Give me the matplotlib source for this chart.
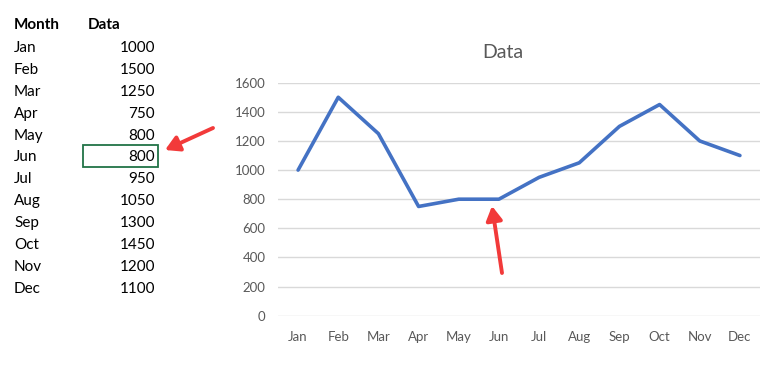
import matplotlib
matplotlib.use("Agg")
import matplotlib.pyplot as plt
from matplotlib.patches import Rectangle, FancyArrowPatch

months = ["Jan", "Feb", "Mar", "Apr", "May", "Jun", "Jul", "Aug", "Sep", "Oct", "Nov", "Dec"]
values = [1000, 1500, 1250, 750, 800, 800, 950, 1050, 1300, 1450, 1200, 1100]
yticks = [0, 200, 400, 600, 800, 1000, 1200, 1400, 1600]
title = "Data"
headers = ["Month", "Data"]

plt.rcParams['font.family'] = ['Lato', 'DejaVu Sans']

W, H = 784, 372
fig = plt.figure(figsize=(W / 100, H / 100), dpi=100)
fig.patch.set_facecolor("white")

def fx(x):
    return x / W

def fy(y):
    return 1 - y / H

# Chart
ax = fig.add_axes([fx(278), fy(315.7), fx(760) - fx(278), fy(82.7) - fy(315.7)])
x = list(range(len(months)))
ax.plot(x, values, color="#4472C4", lw=2.6, solid_joinstyle="round", solid_capstyle="round", zorder=3)
ax.set_xlim(-0.5, len(months) - 0.5)
ax.set_ylim(yticks[0], yticks[-1])
ax.set_yticks(yticks)
ax.set_yticklabels([str(v) for v in yticks])
ax.set_xticks(x)
ax.set_xticklabels(months)
ax.grid(axis="y", color="#D9D9D9", lw=1)
ax.set_axisbelow(True)
for s in ax.spines.values():
    s.set_visible(False)
ax.tick_params(axis="both", length=0, labelsize=9.5, labelcolor="#595959")
ax.tick_params(axis="y", pad=9)
ax.tick_params(axis="x", pad=11)
fig.text(fx(503), fy(52), title, ha="center", va="center", fontsize=14, color="#595959")

# Table
fig.text(fx(14), fy(25), headers[0], ha="left", va="center", fontsize=11, fontweight="bold", color="black")
fig.text(fx(88), fy(25), headers[1], ha="left", va="center", fontsize=11, fontweight="bold", color="black")
for i, (m, v) in enumerate(zip(months, values)):
    yy = 48 + i * 21.9
    fig.text(fx(14), fy(yy), m, ha="left", va="center", fontsize=11, color="black")
    fig.text(fx(155), fy(yy), str(v), ha="right", va="center", fontsize=11, color="black")

# Selected cell box (Jun)
fig.add_artist(Rectangle((fx(83), fy(167)), fx(158) - fx(83), fy(145) - fy(167),
                         transform=fig.transFigure, fill=False, edgecolor="#217346", lw=1.3))

# Red arrows
arrow_kw = dict(arrowstyle="-|>,head_length=0.7,head_width=0.4", color="#F23A3A", lw=2.8,
                shrinkA=0, shrinkB=0, capstyle="round")
fig.add_artist(FancyArrowPatch((fx(213), fy(128)), (fx(165), fy(150)),
                               transform=fig.transFigure, mutation_scale=12, **arrow_kw))
fig.add_artist(FancyArrowPatch((fx(502), fy(273)), (fx(492), fy(206)),
                               transform=fig.transFigure, mutation_scale=12, **arrow_kw))

fig.savefig("out.png", dpi=100, facecolor="white")
